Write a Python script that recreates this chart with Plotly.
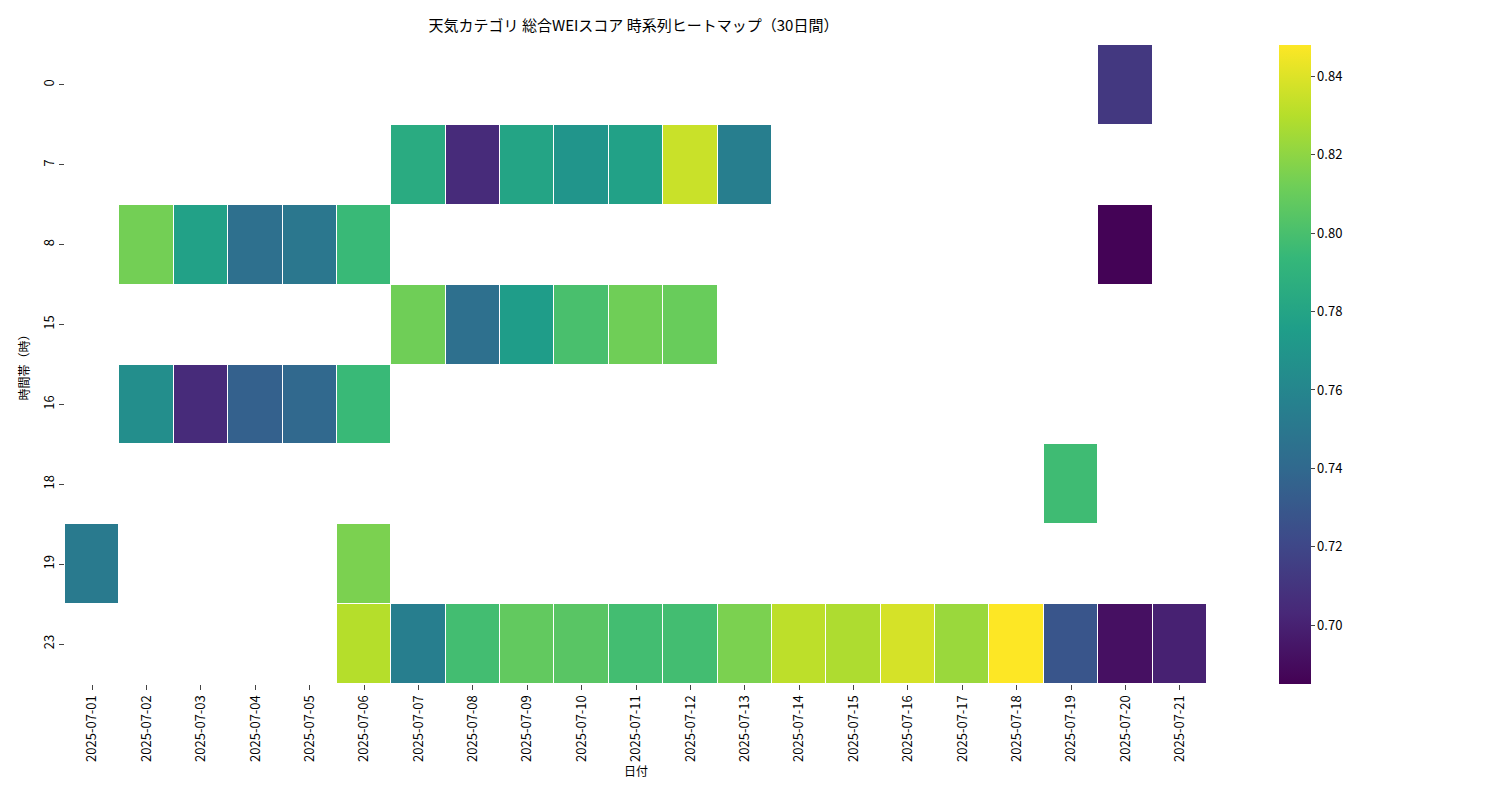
import plotly.graph_objects as go

dates = ["2025-07-%02d" % d for d in range(1, 22)]
hours = ["0", "7", "8", "15", "16", "18", "19", "23"]

# WEI score per hour row, keyed by date
row_0 = {"2025-07-20": 0.712}
row_7 = {"2025-07-07": 0.785, "2025-07-08": 0.705, "2025-07-09": 0.780, "2025-07-10": 0.770,
         "2025-07-11": 0.778, "2025-07-12": 0.835, "2025-07-13": 0.755}
row_8 = {"2025-07-02": 0.813, "2025-07-03": 0.778, "2025-07-04": 0.745, "2025-07-05": 0.750,
         "2025-07-06": 0.795, "2025-07-20": 0.686}
row_15 = {"2025-07-07": 0.812, "2025-07-08": 0.745, "2025-07-09": 0.775, "2025-07-10": 0.800,
          "2025-07-11": 0.812, "2025-07-12": 0.810}
row_16 = {"2025-07-02": 0.765, "2025-07-03": 0.705, "2025-07-04": 0.735, "2025-07-05": 0.740,
          "2025-07-06": 0.795}
row_18 = {"2025-07-19": 0.797}
row_19 = {"2025-07-01": 0.752, "2025-07-06": 0.815}
row_23 = {"2025-07-06": 0.830, "2025-07-07": 0.755, "2025-07-08": 0.798, "2025-07-09": 0.808,
          "2025-07-10": 0.805, "2025-07-11": 0.798, "2025-07-12": 0.798, "2025-07-13": 0.815,
          "2025-07-14": 0.832, "2025-07-15": 0.828, "2025-07-16": 0.838, "2025-07-17": 0.823,
          "2025-07-18": 0.848, "2025-07-19": 0.728, "2025-07-20": 0.692, "2025-07-21": 0.700}

rows = [row_0, row_7, row_8, row_15, row_16, row_18, row_19, row_23]
z = [[r.get(d) for d in dates] for r in rows]

font = "Noto Sans CJK JP"
fig = go.Figure(go.Heatmap(
    x=dates, y=hours, z=z, colorscale="Viridis", xgap=1, ygap=1,
    zmin=0.685, zmax=0.848, hoverongaps=False,
    colorbar=dict(x=1.063, xanchor="left", y=0.5, yanchor="middle", len=1, lenmode="fraction",
                  ypad=0, xpad=0, thickness=32, outlinewidth=0, tickformat=".2f",
                  tickvals=[0.70, 0.72, 0.74, 0.76, 0.78, 0.80, 0.82, 0.84],
                  ticks="outside", ticklen=4, tickfont=dict(size=13)),
))
fig.update_layout(
    width=1500, height=800, plot_bgcolor="white", paper_bgcolor="white",
    font=dict(family=font, size=13, color="black"),
    margin=dict(l=57, r=301, t=37, b=124, autoexpand=False),
    title=dict(text="天気カテゴリ 総合WEIスコア 時系列ヒートマップ（30日間）", x=0.417, xanchor="center",
               y=0.985, yanchor="top", font=dict(size=15)),
    xaxis=dict(title=dict(text="日付", standoff=4, font=dict(size=12)), tickangle=-90, ticks="outside",
               ticklen=5, showgrid=False, zeroline=False, type="category", automargin=False),
    yaxis=dict(title=dict(text="時間帯（時）", standoff=6, font=dict(size=12)), tickangle=-90,
               ticks="outside", ticklen=5, autorange="reversed", showgrid=False, zeroline=False,
               type="category", automargin=False),
)
fig.write_html("out.html")
